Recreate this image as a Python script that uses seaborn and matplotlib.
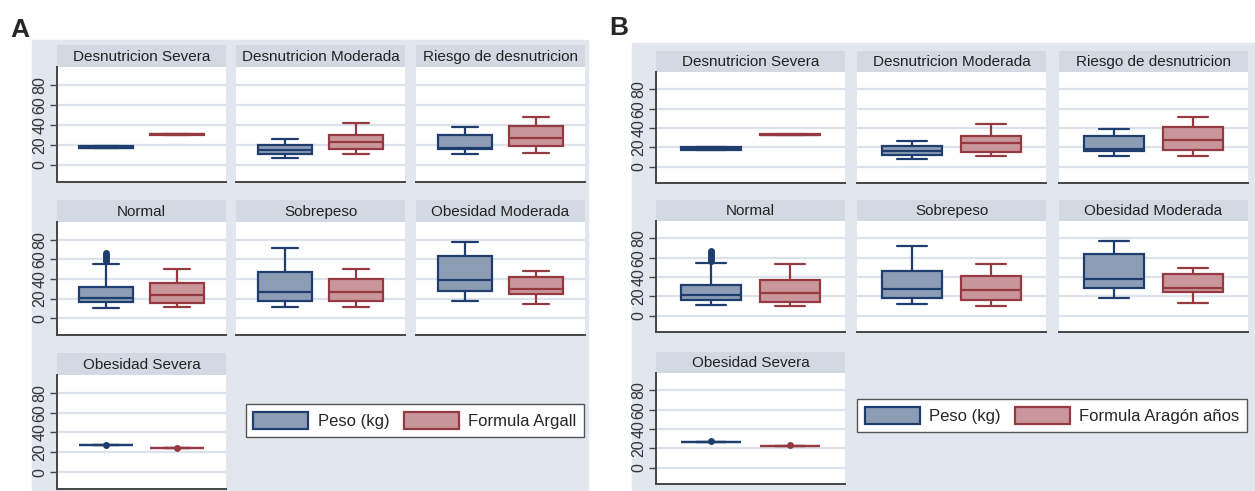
import pandas as pd
import numpy as np
import matplotlib
matplotlib.use('Agg')
import matplotlib.pyplot as plt
from matplotlib.patches import Patch, Rectangle
from matplotlib import font_manager
import seaborn as sns

sns.set_style('white')
plt.rcParams['font.family'] = ['Liberation Sans', 'DejaVu Sans']

installed = {f.name for f in font_manager.fontManager.ttflist}
if 'Liberation Sans Narrow' in installed:
    narrow = ['Liberation Sans Narrow', 'Liberation Sans']
    strip_size, legend_size = 12.5, 13.5
else:
    narrow = ['Liberation Sans', 'DejaVu Sans']
    strip_size, legend_size = 11, 12

categorias = ['Desnutricion Severa', 'Desnutricion Moderada', 'Riesgo de desnutricion',
              'Normal', 'Sobrepeso', 'Obesidad Moderada', 'Obesidad Severa']

# min, q1, mediana, q3, max
peso_A = [[17, 17, 17.5, 19.5, 19.5], [7, 11, 15, 20, 26], [11, 16, 17, 30, 38],
          [10, 17, 21, 32, 55], [12, 18, 27, 47, 72], [18, 28, 39, 63, 78],
          [27, 27, 27, 27, 27]]
argall_A = [[30.5, 30.5, 31, 31.5, 31.5], [11, 16, 23, 30, 42], [12, 19, 27, 39, 48],
            [12, 16, 24, 36, 50], [12, 18, 27, 40, 50], [15, 25, 30, 42, 48],
            [24.5, 24.5, 24.5, 24.5, 24.5]]
peso_B = [[17, 17, 18, 20, 20], [8, 12, 16, 21, 27], [11, 16, 18, 31.5, 39],
          [11, 16.5, 21.5, 32, 55], [12, 18, 28, 46.5, 72], [18.5, 28.5, 38, 63.5, 77],
          [27, 27, 27, 27, 27]]
aragon_B = [[32.5, 32.5, 33, 33.5, 33.5], [10.5, 15, 24.5, 31.5, 44], [10.5, 17.5, 27.5, 41, 51],
            [9.5, 14.5, 23, 37, 53.5], [9.5, 16, 27, 41.5, 53.5], [13.5, 24.5, 28.5, 43.5, 49.5],
            [22.5, 22.5, 22.5, 22.5, 22.5]]

# single points
puntos_peso_A = {'Normal': [58, 60, 62, 64, 66], 'Obesidad Severa': [27]}
puntos_argall_A = {'Obesidad Severa': [24.5]}
puntos_peso_B = {'Normal': [57, 59, 61, 63, 65, 67], 'Obesidad Severa': [28]}
puntos_aragon_B = {'Obesidad Severa': [23.5]}

W, H = 1255, 491
bg = '#E1E6EF'
strip_c = '#D3D9E3'
grid_c = '#DCE2EB'
axis_c = '#444444'
navy, navy_fill = '#1F3E6E', '#8E9DB6'
maroon, maroon_fill = '#953A40', '#C9979B'

fig = plt.figure(figsize=(W / 100, H / 100), dpi=100)
fig.patch.set_facecolor('white')


def px_axes(x0, y0, x1, y1):
    return fig.add_axes([x0 / W, 1 - y1 / H, (x1 - x0) / W, (y1 - y0) / H])


def long_df(peso, formula, nombres):
    rows = []
    for cat, p, f in zip(categorias, peso, formula):
        rows += [(cat, nombres[0], v) for v in p]
        rows += [(cat, nombres[1], v) for v in f]
    return pd.DataFrame(rows, columns=['categoria', 'medida', 'valor'])


def draw_panel(df, puntos, nombres, col_x, col_w, strip_y, strip_h, plot_h):
    for i, cat in enumerate(categorias):
        r, c = divmod(i, 3)
        x0 = col_x[c]
        sax = px_axes(x0, strip_y[r], x0 + col_w, strip_y[r] + strip_h)
        sax.set_facecolor(strip_c)
        sax.set_xticks([])
        sax.set_yticks([])
        for s in sax.spines.values():
            s.set_visible(False)
        sax.text(0.5, 0.47, cat, ha='center', va='center', fontsize=strip_size,
                 family=narrow, color='#222222', transform=sax.transAxes)

        ax = px_axes(x0, strip_y[r] + strip_h, x0 + col_w, strip_y[r] + strip_h + plot_h[r])
        ax.set_facecolor('white')
        sub = df[df['categoria'] == cat]
        for k, (fill, edge) in enumerate([(navy_fill, navy), (maroon_fill, maroon)]):
            sns.boxplot(data=sub[sub['medida'] == nombres[k]], x='medida', y='valor',
                        order=nombres, color=fill, linecolor=edge, linewidth=1.6,
                        width=0.75, whis=(0, 100), saturation=1, showfliers=False, ax=ax)
            pts = puntos[k].get(cat, [])
            if pts:
                sns.stripplot(x=[nombres[k]] * len(pts), y=pts, order=nombres, color=edge,
                              jitter=False, size=5, ax=ax)
        ax.set_xlim(-0.69, 1.69)
        ax.set_ylim(-17, 98)
        ax.set_xlabel('')
        ax.set_ylabel('')
        ax.set_xticks([])
        ax.set_yticks([0, 20, 40, 60, 80])
        ax.yaxis.grid(True, color=grid_c, lw=1.6)
        ax.set_axisbelow(True)
        ax.spines['top'].set_visible(False)
        ax.spines['right'].set_visible(False)
        ax.spines['bottom'].set_color(axis_c)
        ax.spines['bottom'].set_linewidth(1.4)
        if c == 0:
            ax.spines['left'].set_color(axis_c)
            ax.spines['left'].set_linewidth(1.4)
            ax.tick_params(axis='y', left=True, length=5, width=1, color=axis_c, pad=2,
                           labelsize=11.5, labelcolor='#333333', labelrotation=90)
            for lbl in ax.get_yticklabels():
                lbl.set_va('center')
        else:
            ax.spines['left'].set_visible(False)
            ax.tick_params(axis='y', left=False, labelleft=False)


def legend(nombres, x, y):
    handles = [Patch(facecolor=navy_fill, edgecolor=navy, lw=1.6, label=nombres[0]),
               Patch(facecolor=maroon_fill, edgecolor=maroon, lw=1.6, label=nombres[1])]
    leg = fig.legend(handles=handles, loc='upper left', bbox_to_anchor=(x / W, 1 - y / H),
                     ncol=2, frameon=True, fancybox=False, edgecolor='#555555', framealpha=1,
                     handlelength=3.3, handleheight=1.25, handletextpad=0.55, columnspacing=0.9,
                     borderpad=0.45, borderaxespad=0, prop={'family': narrow, 'size': legend_size})
    leg.get_frame().set_linewidth(1.0)


# panel backgrounds, behind the axes
fig.patches.append(Rectangle((32 / W, 0), (588 - 32) / W, (H - 40) / H,
                             transform=fig.transFigure, color=bg, zorder=-1))
fig.patches.append(Rectangle((632 / W, 0), (W - 632) / W, (H - 43) / H,
                             transform=fig.transFigure, color=bg, zorder=-1))
fig.text(10 / W, 1 - 37 / H, 'A', fontsize=19, fontweight='bold', va='baseline')
fig.text(609 / W, 1 - 35 / H, 'B', fontsize=19, fontweight='bold', va='baseline')

nombres_A = ['Peso (kg)', 'Formula Argall']
nombres_B = ['Peso (kg)', 'Formula Aragón años']

draw_panel(long_df(peso_A, argall_A, nombres_A), [puntos_peso_A, puntos_argall_A], nombres_A,
           [57, 236, 416], 169, [45, 200, 353], 22, [115, 113, 114])
draw_panel(long_df(peso_B, aragon_B, nombres_B), [puntos_peso_B, puntos_aragon_B], nombres_B,
           [656, 857, 1059], 189, [51, 200, 352], 21, [111, 111, 111])

legend(nombres_A, 246, 404)
legend(nombres_B, 857, 399)

fig.savefig('out.png', dpi=100)
